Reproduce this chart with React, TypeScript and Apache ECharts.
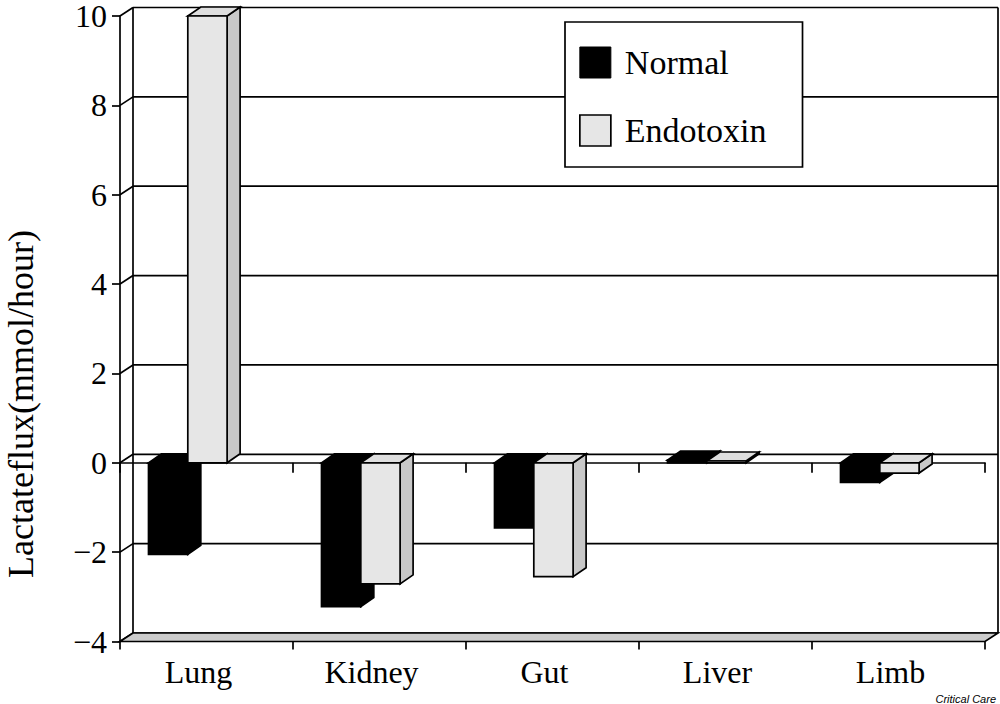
import React, { useEffect, useRef } from "react";
import * as echarts from "echarts";

const categories = ["Lung", "Kidney", "Gut", "Liver", "Limb"];
const normalValues = [-2.05, -3.22, -1.46, 0.06, -0.44];
const endotoxinValues = [10.0, -2.71, -2.55, 0.04, -0.23];
const yTicks = [-4, -2, 0, 2, 4, 6, 8, 10];
const seriesNames = ["Normal", "Endotoxin"];

const DX = 13;
const DY = -8.5;
const BAR_DX = 13;
const BAR_DY = -9;
const OFFSET_FRAC = 28.5 / 173;
const WIDTH_FRAC = 39.3 / 173;
const LINE = 1.7;

const SERIF = '"Liberation Serif", "Times New Roman", serif';

function barRenderer(slot: number, front: string, top: string, side: string, stroke: string) {
  return (params: any, api: any) => {
    const idx = api.value(0);
    const v = api.value(1);
    const p0 = api.coord([idx, 0]);
    const p1 = api.coord([idx, v]);
    const band = api.size([1, 0])[0];
    const w = band * WIDTH_FRAC;
    const x0 = p0[0] - band / 2 + band * OFFSET_FRAC + slot * w;
    const yT = Math.min(p0[1], p1[1]);
    const yB = Math.max(p0[1], p1[1]);
    const st = (fill: string) => ({ fill, stroke, lineWidth: LINE, lineJoin: "miter" });
    return {
      type: "group",
      children: [
        {
          type: "polygon",
          shape: {
            points: [
              [x0 + w, yT],
              [x0 + w + BAR_DX, yT + BAR_DY],
              [x0 + w + BAR_DX, yB + BAR_DY],
              [x0 + w, yB],
            ],
          },
          style: st(side),
        },
        {
          type: "polygon",
          shape: {
            points: [
              [x0, yT],
              [x0 + w, yT],
              [x0 + w + BAR_DX, yT + BAR_DY],
              [x0 + BAR_DX, yT + BAR_DY],
            ],
          },
          style: st(top),
        },
        {
          type: "rect",
          shape: { x: x0, y: yT, width: w, height: Math.max(yB - yT, 0.5) },
          style: st(front),
        },
      ],
    };
  };
}

export default function App() {
  const ref = useRef<HTMLDivElement>(null);

  useEffect(() => {
    if (!ref.current) return;
    const chart = echarts.init(ref.current, undefined, { renderer: "svg" });

    const option: any = {
      animation: false,
      backgroundColor: "#ffffff",
      grid: { left: 120, right: 15, top: 14.5, bottom: 62.5, containLabel: false },
      legend: {
        orient: "vertical",
        left: 565,
        top: 22,
        padding: [23.5, 36, 19.5, 14],
        itemWidth: 31,
        itemHeight: 31,
        itemGap: 34,
        selectedMode: false,
        backgroundColor: "#ffffff",
        borderColor: "#000000",
        borderWidth: LINE,
        textStyle: {
          fontFamily: SERIF,
          fontSize: 34,
          color: "#000",
          lineHeight: 31,
          padding: [0, 0, 0, 9],
        },
        data: [
          { name: seriesNames[0], icon: "rect", itemStyle: { color: "#000000", borderColor: "#000", borderWidth: 1 } },
          { name: seriesNames[1], icon: "rect", itemStyle: { color: "#e6e6e6", borderColor: "#000", borderWidth: LINE } },
        ],
      },
      xAxis: [
        {
          type: "category",
          data: categories,
          boundaryGap: true,
          position: "bottom",
          axisLine: { show: true, onZero: true, lineStyle: { color: "#000", width: LINE } },
          axisTick: { show: true, length: 10, lineStyle: { color: "#000", width: LINE } },
          axisLabel: { show: false },
          splitLine: { show: false },
          z: 1,
        },
        {
          type: "category",
          data: categories,
          boundaryGap: true,
          position: "bottom",
          offset: 0,
          axisLine: { show: false, onZero: false },
          axisTick: { show: true, length: 8, lineStyle: { color: "#000", width: LINE } },
          axisLabel: {
            fontFamily: SERIF,
            fontSize: 32,
            color: "#000",
            margin: 14,
            lineHeight: 32,
            padding: [0, 16, 0, 0],
          },
          splitLine: { show: false },
        },
      ],
      yAxis: {
        type: "value",
        min: -4,
        max: 10,
        interval: 2,
        axisLine: { show: true, lineStyle: { color: "#000", width: LINE } },
        axisTick: { show: true, length: 8, lineStyle: { color: "#000", width: LINE } },
        axisLabel: {
          fontFamily: SERIF,
          fontSize: 32,
          lineHeight: 28,
          color: "#000",
          margin: 13,
          padding: [3, 0, 0, 0],
          formatter: (v: number) => String(v).replace("-", "\u2212"),
        },
        splitLine: { show: false },
      },
      graphic: [
        {
          type: "text",
          x: 21,
          y: 404,
          rotation: Math.PI / 2,
          style: {
            text: "Lactateflux(mmol/hour)",
            fontFamily: SERIF,
            fontSize: 36,
            lineHeight: 34,
            fill: "#000",
            textAlign: "center",
            textVerticalAlign: "middle",
          },
        },
        {
          type: "text",
          x: 996,
          y: 699,
          style: {
            text: "Critical Care",
            fontFamily: '"Liberation Sans", Arial, sans-serif',
            fontStyle: "italic",
            fontSize: 11,
            fill: "#000",
            textAlign: "right",
            textVerticalAlign: "middle",
          },
        },
      ],
      series: [
        {
          name: "gridlines",
          type: "custom",
          silent: true,
          z: 0,
          data: yTicks.map((v) => [0, v]),
          renderItem: (params: any, api: any) => {
            const cs = params.coordSys;
            const y = api.coord([0, api.value(1)])[1];
            return {
              type: "group",
              children: [
                {
                  type: "line",
                  shape: { x1: cs.x + DX, y1: y + DY, x2: cs.x + cs.width + DX, y2: y + DY },
                  style: { stroke: "#000", lineWidth: LINE },
                },
                {
                  type: "line",
                  shape: { x1: cs.x, y1: y, x2: cs.x + DX, y2: y + DY },
                  style: { stroke: "#000", lineWidth: LINE },
                },
              ],
            };
          },
        },
        {
          name: "walls",
          type: "custom",
          silent: true,
          z: 1,
          data: [[0, yTicks[0], yTicks[yTicks.length - 1]]],
          renderItem: (params: any, api: any) => {
            const cs = params.coordSys;
            const yLow = api.coord([0, api.value(1)])[1];
            const yHigh = api.coord([0, api.value(2)])[1];
            const xL = cs.x;
            const xR = cs.x + cs.width;
            return {
              type: "group",
              children: [
                {
                  type: "line",
                  shape: { x1: xL + DX, y1: yHigh + DY, x2: xL + DX, y2: yLow + DY },
                  style: { stroke: "#000", lineWidth: LINE },
                },
                {
                  type: "line",
                  shape: { x1: xR + DX, y1: yHigh + DY, x2: xR + DX, y2: yLow + DY },
                  style: { stroke: "#000", lineWidth: LINE },
                },
                {
                  type: "polygon",
                  shape: {
                    points: [
                      [xL, yLow],
                      [xR, yLow],
                      [xR + DX, yLow + DY],
                      [xL + DX, yLow + DY],
                    ],
                  },
                  style: { fill: "#cccccc", stroke: "#000", lineWidth: LINE },
                },
              ],
            };
          },
        },
        {
          name: seriesNames[0],
          type: "custom",
          z: 3,
          itemStyle: { color: "#000000" },
          encode: { x: 0, y: 1 },
          data: normalValues.map((v, i) => [i, v]),
          renderItem: barRenderer(0, "#000000", "#000000", "#000000", "#000000"),
        },
        {
          name: seriesNames[1],
          type: "custom",
          z: 4,
          itemStyle: { color: "#e6e6e6" },
          encode: { x: 0, y: 1 },
          data: endotoxinValues.map((v, i) => [i, v]),
          renderItem: barRenderer(1, "#e6e6e6", "#dedede", "#c8c8c8", "#000000"),
        },
      ],
    };

    chart.setOption(option);
    return () => {
      chart.dispose();
    };
  }, []);

  return (
    <div
      ref={ref}
      style={{ position: "absolute", left: 0, top: 0, width: 1000, height: 704, background: "#fff" }}
    />
  );
}
